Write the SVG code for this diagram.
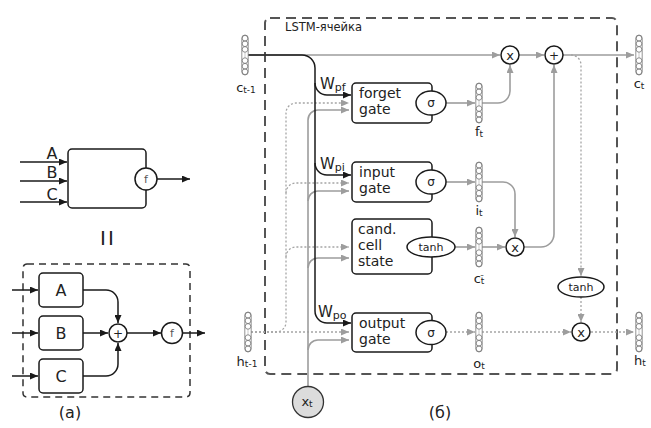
<svg xmlns="http://www.w3.org/2000/svg" xmlns:xlink="http://www.w3.org/1999/xlink" width="651" height="428" viewBox="0 0 651 428">
<style>
text{font-family:"DejaVu Sans","Liberation Sans",sans-serif;fill:#222}
.k{fill:none;stroke:#1a1a1a;stroke-width:1.5}
.kb{fill:#fff;stroke:#1a1a1a;stroke-width:1.5}
.g{fill:none;stroke:#9d9d9d;stroke-width:1.6}
.d{fill:none;stroke:#a5a5a5;stroke-width:1.3;stroke-dasharray:2 2}
.ak{marker-end:url(#mk)}
.ag{marker-end:url(#mg)}
.gt{font-size:14px}
.sm{font-size:13px}
.sub{font-size:9px}
.cap{font-size:16px}
</style>
<defs>
<marker id="mk" markerUnits="userSpaceOnUse" markerWidth="8" markerHeight="7" refX="8" refY="3.5" orient="auto"><path d="M0,0 L8,3.5 L0,7 z" fill="#1a1a1a"/></marker>
<marker id="mg" markerUnits="userSpaceOnUse" markerWidth="8" markerHeight="7" refX="8" refY="3.5" orient="auto"><path d="M0,0 L8,3.5 L0,7 z" fill="#9d9d9d"/></marker>
<g id="vec">
<rect x="-3.2" y="0" width="6.4" height="40" rx="3.2" fill="#fff" stroke="#777" stroke-width="0.8"/>
<g fill="none" stroke="#777" stroke-width="0.8">
<circle cx="0" cy="3.2" r="2.8"/><circle cx="0" cy="8.8" r="2.8"/><circle cx="0" cy="14.4" r="2.8"/>
<circle cx="0" cy="25.6" r="2.8"/><circle cx="0" cy="31.2" r="2.8"/><circle cx="0" cy="36.8" r="2.8"/>
<path d="M0,17.5 V22.5" stroke-dasharray="1 1"/>
</g>
</g>
</defs>
<rect width="651" height="428" fill="#fff"/>

<!-- Part (a) top -->
<g id="a-top-connectors">
<path class="k ak" d="M20,162 H67"/>
<path class="k ak" d="M20,181 H67"/>
<path class="k ak" d="M20,202 H67"/>
<path class="k ak" d="M157,179 H190"/>
</g>
<g id="a-top-node">
<rect class="kb" x="68" y="149" width="78" height="59" rx="4"/>
<circle class="kb" cx="146" cy="179" r="11"/>
<text x="146" y="183" font-size="11" text-anchor="middle" style="fill:#555">f</text>
<text class="cap" x="52" y="159" text-anchor="middle">A</text>
<text class="cap" x="52" y="178" text-anchor="middle">B</text>
<text class="cap" x="52" y="200" text-anchor="middle">C</text>
</g>
<text x="108" y="245" font-size="20" text-anchor="middle" letter-spacing="2">II</text>

<!-- Part (a) bottom -->
<g id="a-bottom-frame">
<rect x="23" y="264" width="167" height="133" rx="4" fill="none" stroke="#333" stroke-width="1.5" stroke-dasharray="7 5"/>
</g>
<g id="a-bottom-connectors">
<path class="k ak" d="M12,290 H38"/>
<path class="k ak" d="M12,333 H38"/>
<path class="k ak" d="M12,376 H38"/>
<path class="k ak" d="M83,290 H106 A12,12 0 0 1 118,302 V323"/>
<path class="k ak" d="M83,333 H108"/>
<path class="k ak" d="M83,376 H106 A12,12 0 0 0 118,364 V343"/>
<path class="k ak" d="M127,333 H161"/>
<path class="k ak" d="M182.5,333 H205"/>
</g>
<g id="nA"><rect class="kb" x="39" y="273" width="44" height="34" rx="4"/><text class="cap" x="61" y="296" text-anchor="middle">A</text></g>
<g id="nB"><rect class="kb" x="39" y="316" width="44" height="34" rx="4"/><text class="cap" x="61" y="339" text-anchor="middle">B</text></g>
<g id="nC"><rect class="kb" x="39" y="359" width="44" height="34" rx="4"/><text class="cap" x="61" y="382" text-anchor="middle">C</text></g>
<g id="nPlusA"><circle class="kb" cx="118" cy="333" r="9"/><text x="118" y="337.5" font-size="12" text-anchor="middle">+</text></g>
<g id="nFA"><circle class="kb" cx="172" cy="333" r="10.5"/><text x="172" y="337" font-size="11" text-anchor="middle" style="fill:#555">f</text></g>
<text class="cap" x="70" y="418" text-anchor="middle">(а)</text>

<!-- Part (b) LSTM -->
<g id="lstm-frame">
<rect x="265" y="18" width="352" height="356" rx="5" fill="none" stroke="#555" stroke-width="2" stroke-dasharray="10 6"/>
<text x="285" y="31" font-size="11.5">LSTM-ячейка</text>
</g>

<g id="connectors">
<!-- dotted h(t-1) lines -->
<path class="d ag" d="M251,332 H349"/>
<path class="d" d="M251,332 H276 A10,10 0 0 0 286,322 V113 A10,10 0 0 1 296,103 H341"/>
<path class="d ag" d="M341,103 H349"/>
<path class="d ag" d="M286,193 A10,10 0 0 1 296,183 H349"/>
<path class="d ag" d="M286,257 A10,10 0 0 1 296,247 H349"/>
<!-- gray x_t lines -->
<path class="g ag" d="M308,386 V120 A10,10 0 0 1 318,110 H349"/>
<path class="g ag" d="M308,201 A10,10 0 0 1 318,191 H349"/>
<path class="g ag" d="M308,268 A10,10 0 0 1 318,258 H349"/>
<path class="g ag" d="M308,350 A10,10 0 0 1 318,340 H349"/>
<!-- cell state line -->
<path class="g ag" d="M248,55 H500"/>
<path class="g ag" d="M519,55 H544"/>
<path class="g ag" d="M563,55 H634"/>
<!-- right side -->
<path class="g ag" d="M446,103 H475"/>
<path class="g ag" d="M482,103 H498 A12,12 0 0 0 510,91 V65"/>
<path class="g ag" d="M446,182 H475"/>
<path class="g ag" d="M482,182 H503 A12,12 0 0 1 515,194 V237"/>
<path class="g ag" d="M455,247 H475"/>
<path class="g ag" d="M482,247 H505"/>
<path class="g ag" d="M524,247 H541 A13,13 0 0 0 554,234 V65"/>
<path class="d ag" d="M571,55 A10,10 0 0 1 581,65 V276"/>
<path class="d ag" d="M581,297 V322"/>
<path class="d ag" d="M446,332 H475"/>
<path class="d ag" d="M482,332 H571"/>
<path class="d ag" d="M591,332 H634"/>
<!-- black weights -->
<path class="k ak" d="M248,55 H302 A13,13 0 0 1 315,68 V311 A12,12 0 0 0 327,323 H351"/>
<path class="k ak" d="M315,83 A12,12 0 0 0 327,95 H351"/>
<path class="k ak" d="M315,163 A12,12 0 0 0 327,175 H351"/>
</g>

<g id="labels-W">
<text x="320" y="89" font-size="15">W<tspan font-size="11" dy="2">pf</tspan></text>
<text x="320" y="169" font-size="15">W<tspan font-size="11" dy="2">pi</tspan></text>
<text x="318" y="317" font-size="15">W<tspan font-size="11" dy="2">po</tspan></text>
</g>

<g id="forget-gate">
<rect class="kb" x="352" y="83" width="80" height="40" rx="4"/>
<text class="gt" x="359" y="98">forget</text>
<text class="gt" x="359" y="114">gate</text>
<ellipse class="kb" cx="431" cy="103" rx="15" ry="12"/>
<text x="431" y="107" font-size="12" text-anchor="middle">σ</text>
</g>
<g id="input-gate">
<rect class="kb" x="352" y="162" width="80" height="40" rx="4"/>
<text class="gt" x="359" y="177">input</text>
<text class="gt" x="359" y="193">gate</text>
<ellipse class="kb" cx="431" cy="182" rx="15" ry="12"/>
<text x="431" y="186" font-size="12" text-anchor="middle">σ</text>
</g>
<g id="cand-gate">
<rect class="kb" x="352" y="219" width="80" height="55" rx="4"/>
<text class="gt" x="358" y="234">cand.</text>
<text class="gt" x="358" y="250">cell</text>
<text class="gt" x="358" y="266">state</text>
<ellipse class="kb" cx="431" cy="247" rx="24" ry="10"/>
<text x="431" y="251" font-size="11" text-anchor="middle">tanh</text>
</g>
<g id="output-gate">
<rect class="kb" x="352" y="313" width="80" height="39" rx="4"/>
<text class="gt" x="359" y="328">output</text>
<text class="gt" x="359" y="344">gate</text>
<ellipse class="kb" cx="431" cy="332.5" rx="15" ry="12"/>
<text x="431" y="336.5" font-size="12" text-anchor="middle">σ</text>
</g>

<g id="mul-f"><circle class="kb" cx="510" cy="55" r="9"/><text x="510" y="59.5" font-size="13" text-anchor="middle">x</text></g>
<g id="add-c"><circle class="kb" cx="554" cy="55" r="9"/><text x="554" y="59.5" font-size="12" text-anchor="middle">+</text></g>
<g id="mul-i"><circle class="kb" cx="515" cy="247" r="9"/><text x="515" y="251.5" font-size="13" text-anchor="middle">x</text></g>
<g id="tanh-c"><ellipse class="kb" cx="581" cy="287" rx="23" ry="10"/><text x="581" y="291" font-size="11" text-anchor="middle">tanh</text></g>
<g id="mul-o"><circle class="kb" cx="581" cy="332" r="9"/><text x="581" y="336.5" font-size="13" text-anchor="middle">x</text></g>

<g id="v-c-prev"><use xlink:href="#vec" href="#vec" x="245" y="35"/><text class="sm" x="246" y="92" text-anchor="middle">c<tspan class="sub" dy="1">t-1</tspan></text></g>
<g id="v-c"><use xlink:href="#vec" href="#vec" x="639" y="35"/><text class="sm" x="639" y="88" text-anchor="middle">c<tspan class="sub" dy="1">t</tspan></text></g>
<g id="v-f"><use xlink:href="#vec" href="#vec" x="479" y="83"/><text class="sm" x="479" y="136" text-anchor="middle">f<tspan class="sub" dy="1">t</tspan></text></g>
<g id="v-i"><use xlink:href="#vec" href="#vec" x="479" y="162"/><text class="sm" x="479" y="215" text-anchor="middle">i<tspan class="sub" dy="1">t</tspan></text></g>
<g id="v-ct"><use xlink:href="#vec" href="#vec" x="479" y="227"/><text class="sm" x="479" y="283" text-anchor="middle">c<tspan class="sub" dy="1">t̃</tspan></text></g>
<g id="v-o"><use xlink:href="#vec" href="#vec" x="479" y="312"/><text class="sm" x="479" y="368" text-anchor="middle">o<tspan class="sub" dy="1">t</tspan></text></g>
<g id="v-h-prev"><use xlink:href="#vec" href="#vec" x="248" y="312"/><text class="sm" x="247" y="366" text-anchor="middle">h<tspan class="sub" dy="1">t-1</tspan></text></g>
<g id="v-h"><use xlink:href="#vec" href="#vec" x="639" y="312"/><text class="sm" x="640" y="365" text-anchor="middle">h<tspan class="sub" dy="1">t</tspan></text></g>

<g id="x-t"><circle cx="308" cy="402" r="15.5" fill="#dcdcdc" stroke="#333" stroke-width="1.3"/><text class="sm" x="307" y="406" text-anchor="middle">x<tspan class="sub" dy="1">t</tspan></text></g>

<text class="cap" x="440" y="418" text-anchor="middle">(б)</text>
</svg>
